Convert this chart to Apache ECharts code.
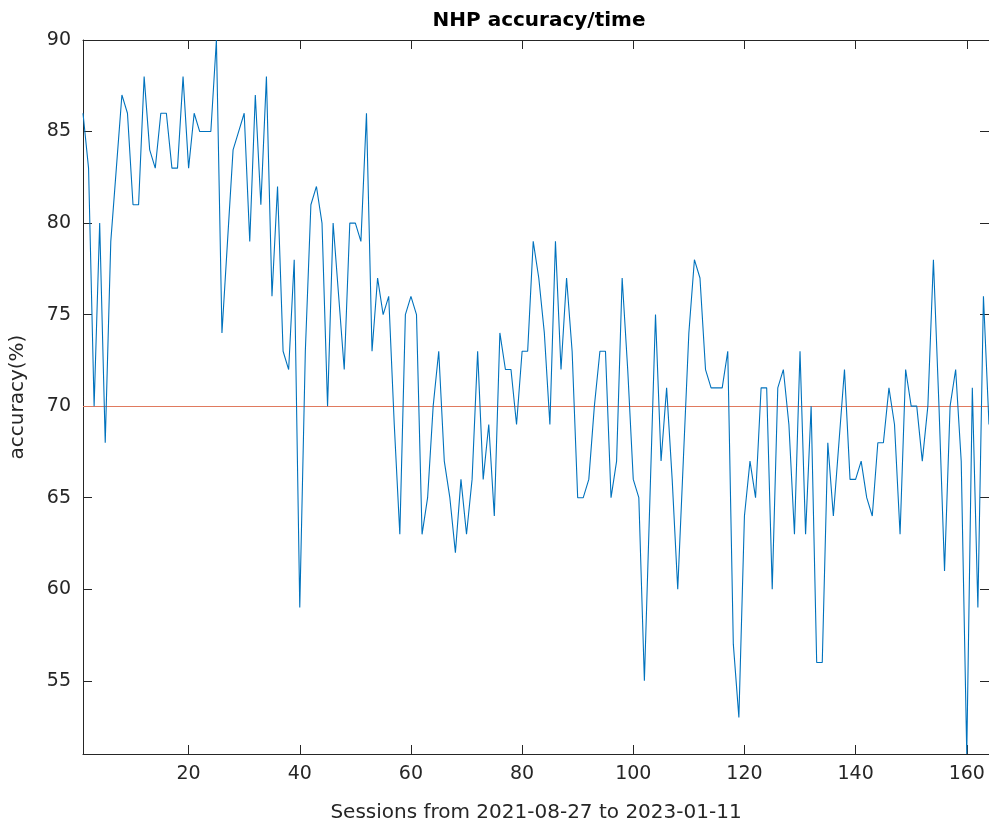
<!DOCTYPE html>
<html>
<head>
<meta charset="utf-8">
<script src="https://cdn.jsdelivr.net/npm/echarts@6/dist/echarts.min.js"></script>
<style>
  html, body { margin: 0; padding: 0; background: #ffffff; }
  #chart { width: 989px; height: 828px; }
</style>
</head>
<body>
<div id="chart"></div>
<script>
// Accuracy (%) per training session, sessions numbered from 1
const accuracy = [
  86, 83, 70, 80, 68, 79, 83, 87, 86, 81,
  81, 88, 84, 83, 86, 86, 83, 83, 88, 83,
  86, 85, 85, 85, 90, 74, 79, 84, 85, 86,
  79, 87, 81, 88, 76, 82, 73, 72, 78, 59,
  73, 81, 82, 80, 70, 80, 76, 72, 80, 80,
  79, 86, 73, 77, 75, 76, 69, 63, 75, 76,
  75, 63, 65, 70, 73, 67, 65, 62, 66, 63,
  66, 73, 66, 69, 64, 74, 72, 72, 69, 73,
  73, 79, 77, 74, 69, 79, 72, 77, 73, 65,
  65, 66, 70, 73, 73, 65, 67, 77, 72, 66,
  65, 55, 65, 75, 67, 71, 66, 60, 67, 74,
  78, 77, 72, 71, 71, 71, 73, 57, 53, 64,
  67, 65, 71, 71, 60, 71, 72, 69, 63, 73,
  63, 70, 56, 56, 68, 64, 68, 72, 66, 66,
  67, 65, 64, 68, 68, 71, 69, 63, 72, 70,
  70, 67, 70, 78, 70, 61, 70, 72, 67, 51,
  71, 59, 76, 69
];

// Criterion level drawn as a horizontal line
const threshold = 70;

// Tick positions
const xTicks = [20, 40, 60, 80, 100, 120, 140, 160];
const yTicks = [55, 60, 65, 70, 75, 80, 85, 90];

const sessions = accuracy.map((_, i) => i + 1);
const points = sessions.map((s, i) => [s, accuracy[i]]);

const xMin = 1;
const xMax = sessions.length;
const yMin = Math.min(...accuracy);
const yMax = Math.max(...accuracy);

const ink = '#262626';
const font = 'DejaVu Sans';

function boxAxis(extra) {
  return Object.assign({
    type: 'value',
    axisLine: { show: true, onZero: false, lineStyle: { color: ink, width: 1 } },
    splitLine: { show: false },
    axisTick: { show: true, inside: true, length: 9, lineStyle: { color: ink, width: 1 } },
    axisLabel: { show: false }
  }, extra);
}

const chart = echarts.init(document.getElementById('chart'), null, { renderer: 'canvas' });

chart.setOption({
  animation: false,
  backgroundColor: '#ffffff',
  title: {
    text: 'NHP accuracy/time',
    left: 534,
    top: 6,
    textAlign: 'center',
    textStyle: { fontFamily: font, fontWeight: 'bold', fontSize: 20, color: '#000000' }
  },
  grid: { left: 77.5, top: 40, width: 913.8, height: 720, containLabel: false },
  xAxis: [
    boxAxis({
      position: 'bottom', min: xMin, max: xMax,
      axisTick: { show: true, inside: true, length: 9, customValues: xTicks, lineStyle: { color: ink, width: 1 } },
      axisLabel: { show: true, customValues: xTicks, color: ink, fontFamily: font, fontSize: 19, margin: 11 },
      name: 'Sessions from 2021-08-27 to 2023-01-11',
      nameLocation: 'middle',
      nameGap: 49,
      nameTextStyle: { color: ink, fontFamily: font, fontSize: 20 }
    }),
    boxAxis({
      position: 'top', min: xMin, max: xMax,
      axisTick: { show: true, inside: true, length: 9, customValues: xTicks, lineStyle: { color: ink, width: 1 } }
    })
  ],
  yAxis: [
    boxAxis({
      position: 'left', min: yMin, max: yMax,
      axisTick: { show: true, inside: true, length: 9, customValues: yTicks, lineStyle: { color: ink, width: 1 } },
      axisLabel: { show: true, customValues: yTicks, color: ink, fontFamily: font, fontSize: 19, margin: 12 },
      name: 'accuracy(%)',
      nameLocation: 'middle',
      nameGap: 55,
      nameRotate: 90,
      nameTextStyle: { color: ink, fontFamily: font, fontSize: 20 }
    }),
    boxAxis({
      position: 'right', min: yMin, max: yMax,
      axisTick: { show: true, inside: true, length: 9, customValues: yTicks, lineStyle: { color: ink, width: 1 } }
    })
  ],
  series: [
    {
      type: 'line',
      xAxisIndex: 0,
      yAxisIndex: 0,
      data: points,
      showSymbol: false,
      symbol: 'none',
      lineStyle: { color: '#0072BD', width: 1.1 },
      clip: true,
      z: 3,
      markLine: {
        silent: true,
        symbol: 'none',
        label: { show: false },
        lineStyle: { color: '#E07A5F', width: 1, type: 'solid' },
        data: [{ yAxis: threshold }],
        z: 2
      }
    }
  ]
});
</script>
</body>
</html>
